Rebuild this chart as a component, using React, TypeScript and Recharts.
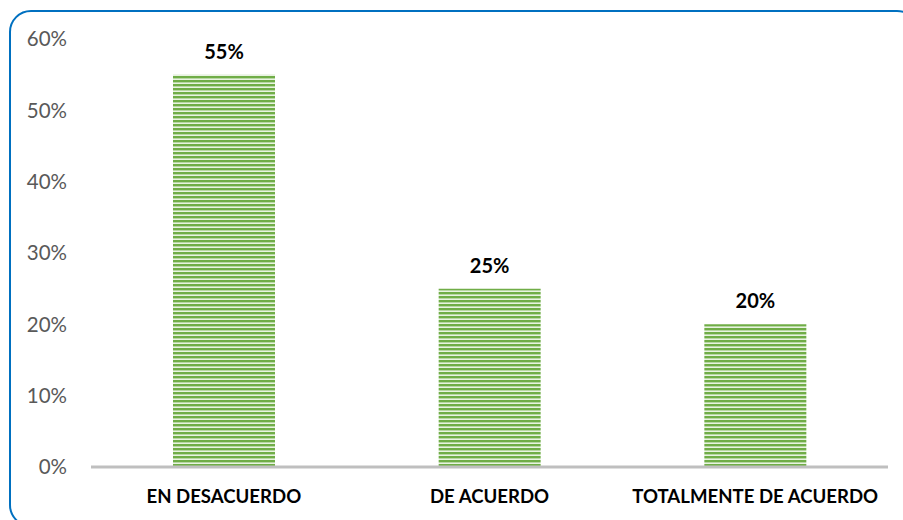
import React from "react";
import { BarChart, Bar, XAxis, YAxis, LabelList } from "recharts";

const categories = ["EN DESACUERDO", "DE ACUERDO", "TOTALMENTE DE ACUERDO"];
const values = [0.55, 0.25, 0.2];
const yTicks = [0, 0.1, 0.2, 0.3, 0.4, 0.5, 0.6];

const data = categories.map((c, i) => ({ name: c, value: values[i] }));

const pct = (v: number) => `${Math.round(v * 100)}%`;

export default function App() {
  return (
    <div style={{ position: "absolute", left: 0, top: 0, width: 903, height: 520, overflow: "hidden", background: "#fff" }}>
      <div
        style={{
          position: "absolute",
          left: 9,
          top: 10,
          width: 910,
          height: 517,
          border: "2px solid #0070C0",
          borderRadius: 22,
          boxSizing: "border-box",
        }}
      />
      <div style={{ position: "absolute", left: 0, top: 0 }}>
        <BarChart
          width={903}
          height={520}
          data={data}
          margin={{ top: 39, right: 15, left: 0, bottom: 13 }}
          barCategoryGap={0}
        >
          <defs>
            <pattern id="stripes" patternUnits="userSpaceOnUse" width="8" height="4">
              <rect x="0" y="0" width="8" height="4" fill="#E8F3E1" />
              <rect x="0" y="0" width="8" height="2.4" fill="#70AD47" />
            </pattern>
          </defs>
          <XAxis
            dataKey="name"
            axisLine={{ stroke: "#BFBFBF", strokeWidth: 3 }}
            tickLine={false}
            tickMargin={17}
            height={40}
            interval={0}
            tick={{ fill: "#000", fontSize: 18.6, fontWeight: 700, fontFamily: "Lato" }}
          />
          <YAxis
            domain={[0, 0.6]}
            ticks={yTicks}
            tickFormatter={pct}
            axisLine={false}
            tickLine={false}
            width={91}
            tickMargin={18}
            tick={{ fill: "#595959", fontSize: 20.5, fontFamily: "Lato" }}
          />
          <Bar dataKey="value" fill="url(#stripes)" barSize={102} isAnimationActive={false}>
            <LabelList
              dataKey="value"
              position="top"
              offset={16}
              formatter={(v: any) => pct(Number(v))}
              style={{ fill: "#000", fontSize: 20, fontWeight: 700, fontFamily: "Lato" }}
            />
          </Bar>
        </BarChart>
      </div>
    </div>
  );
}
